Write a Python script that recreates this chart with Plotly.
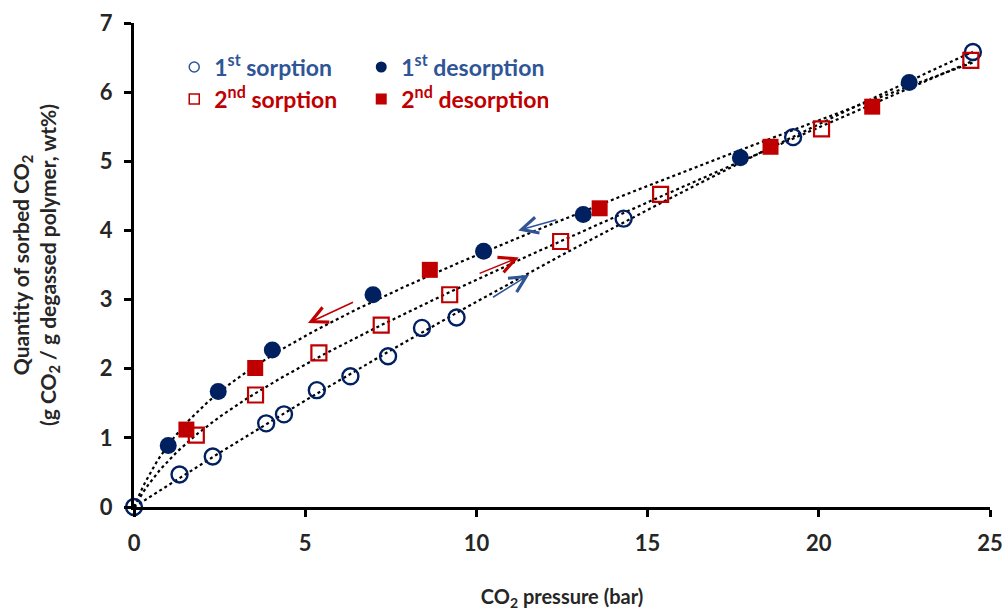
import numpy as np
import plotly.graph_objects as go

# ---------------- data ----------------
sorp1_x = [0, 1.33, 2.30, 3.86, 4.38, 5.34, 6.32, 7.42, 8.41, 9.42, 14.30, 19.25, 24.50]
sorp1_y = [0, 0.47, 0.73, 1.21, 1.34, 1.69, 1.89, 2.18, 2.59, 2.74, 4.17, 5.35, 6.58]

desorp1_x = [1.00, 2.46, 4.04, 6.98, 10.21, 13.12, 17.71, 22.64]
desorp1_y = [0.89, 1.67, 2.27, 3.07, 3.70, 4.23, 5.05, 6.14]

sorp2_x = [1.82, 3.55, 5.40, 7.22, 9.22, 12.46, 15.38, 20.08, 24.44]
sorp2_y = [1.04, 1.62, 2.23, 2.63, 3.07, 3.84, 4.52, 5.47, 6.46]

desorp2_x = [1.53, 3.54, 8.64, 13.60, 18.59, 21.56]
desorp2_y = [1.12, 2.01, 3.43, 4.32, 5.21, 5.79]

x_ticks = [0, 5, 10, 15, 20, 25]
y_ticks = [0, 1, 2, 3, 4, 5, 6, 7]

# arrows: (tail_x, tail_y, head_x, head_y, colour key)
arrows = [
    (10.44, 3.02, 11.54, 3.36, "blue"),
    (10.05, 3.37, 11.24, 3.61, "red"),
    (6.44, 2.97, 5.08, 2.66, "red"),
    (12.38, 4.16, 11.22, 4.00, "blue"),
]

NAVY = "#002060"
BLUE_TXT = "#2F5597"
RED = "#C00000"
FONT = "Lato"
TXT = "#262626"


def dual_mode_fit(x, y):
    """least-squares fit of y = k*p + C*b*p/(1+b*p) (passes through origin)"""
    x = np.asarray(x, float)
    y = np.asarray(y, float)
    best = None
    for b in np.logspace(-3, 1.5, 600):
        A = np.column_stack([x, b * x / (1 + b * x)])
        coef, *_ = np.linalg.lstsq(A, y, rcond=None)
        if coef[0] < 0 or coef[1] < 0:
            continue
        err = np.sum((A @ coef - y) ** 2)
        if best is None or err < best[0]:
            best = (err, b, coef)
    _, b, (k, c) = best
    return lambda p: k * p + c * b * p / (1 + b * p)


p = np.linspace(0, max(sorp1_x), 300)
fit_sorp1 = dual_mode_fit(sorp1_x, sorp1_y)
fit_sorp2 = dual_mode_fit([0] + sorp2_x, [0] + sorp2_y)
# desorption starts from the highest-pressure point of each sorption run
fit_desorp = dual_mode_fit(desorp1_x + desorp2_x + [sorp1_x[-1], sorp2_x[-1]],
                           desorp1_y + desorp2_y + [sorp1_y[-1], sorp2_y[-1]])

fig = go.Figure()

for f in (fit_sorp1, fit_sorp2, fit_desorp):
    fig.add_trace(go.Scatter(x=p, y=f(p), mode="lines",
                             line=dict(color="black", width=2.2, dash="dot"),
                             showlegend=False, hoverinfo="skip"))

fig.add_trace(go.Scatter(x=sorp1_x, y=sorp1_y, mode="markers", cliponaxis=False,
                         marker=dict(symbol="circle-open", size=16, color=NAVY,
                                     line=dict(width=2.4, color=NAVY)),
                         showlegend=False))
fig.add_trace(go.Scatter(x=desorp1_x, y=desorp1_y, mode="markers", cliponaxis=False,
                         marker=dict(symbol="circle", size=17, color=NAVY),
                         showlegend=False))
fig.add_trace(go.Scatter(x=sorp2_x, y=sorp2_y, mode="markers", cliponaxis=False,
                         marker=dict(symbol="square-open", size=15, color=RED,
                                     line=dict(width=2.2, color=RED)),
                         showlegend=False))
fig.add_trace(go.Scatter(x=desorp2_x, y=desorp2_y, mode="markers", cliponaxis=False,
                         marker=dict(symbol="square", size=16, color=RED),
                         showlegend=False))

# legend-only entries
fig.add_trace(go.Scatter(x=[None], y=[None], mode="markers", name="1<sup>st</sup> sorption",
                         marker=dict(symbol="circle-open", size=10, color=BLUE_TXT,
                                     line=dict(width=1.5, color=BLUE_TXT)),
                         legend="legend"))
fig.add_trace(go.Scatter(x=[None], y=[None], mode="markers", name="1<sup>st</sup> desorption",
                         marker=dict(symbol="circle", size=11, color=NAVY),
                         legend="legend"))
fig.add_trace(go.Scatter(x=[None], y=[None], mode="markers", name="2<sup>nd</sup> sorption",
                         marker=dict(symbol="square-open", size=10, color=RED,
                                     line=dict(width=1.5, color=RED)),
                         legend="legend2"))
fig.add_trace(go.Scatter(x=[None], y=[None], mode="markers", name="2<sup>nd</sup> desorption",
                         marker=dict(symbol="square", size=11, color=RED),
                         legend="legend2"))

for tx, ty, hx, hy, c in arrows:
    fig.add_annotation(x=hx, y=hy, ax=tx, ay=ty, xref="x", yref="y",
                       axref="x", ayref="y", text="", showarrow=True,
                       arrowhead=5, arrowsize=2.0, arrowwidth=1.6,
                       arrowcolor=BLUE_TXT if c == "blue" else RED)

axis_common = dict(showline=True, linecolor="black", linewidth=3,
                   ticks="outside", ticklen=7, tickwidth=2.5, tickcolor="black",
                   showgrid=False, zeroline=False, automargin=False,
                   tickfont=dict(family=FONT, size=22, color=TXT, weight="bold"))

fig.update_layout(
    width=1007, height=612,
    margin=dict(l=134, r=17, t=23, b=105),
    plot_bgcolor="white", paper_bgcolor="white",
    font=dict(family=FONT),
    xaxis=dict(range=[0, 25], tickvals=x_ticks, ticklabelstandoff=8, **axis_common,
               title=dict(text="<b>CO<sub>2</sub> pressure (bar)</b>",
                          font=dict(family=FONT, size=20, color=TXT), standoff=35)),
    yaxis=dict(range=[0, 7], tickvals=y_ticks, ticklabelstandoff=7, **axis_common,
               title=dict(text="<b>Quantity of sorbed CO<sub>2</sub><br>(g CO<sub>2</sub> / g degassed polymer, wt%)</b>",
                          font=dict(family=FONT, size=21, color=TXT), standoff=38)),
    legend=dict(orientation="h", x=0.047, y=0.909, xanchor="left", yanchor="middle",
                font=dict(family=FONT, size=23, color=BLUE_TXT, weight="bold"),
                entrywidth=142, bgcolor="rgba(0,0,0,0)", itemclick=False),
    legend2=dict(orientation="h", x=0.047, y=0.843, xanchor="left", yanchor="middle",
                 font=dict(family=FONT, size=23, color=RED, weight="bold"),
                 entrywidth=142, bgcolor="rgba(0,0,0,0)", itemclick=False),
)

fig.write_html("out.html", config={"displayModeBar": False},
               post_script="document.body.style.margin='0px';")
